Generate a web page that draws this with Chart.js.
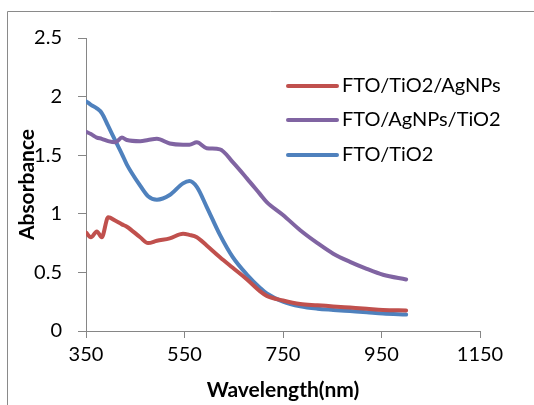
<!DOCTYPE html>
<html>
<head>
<meta charset="utf-8">
<script src="https://cdn.jsdelivr.net/npm/chart.js@4"></script>
<style>
  html, body { margin: 0; padding: 0; background: #fff; }
  #wrap { width: 534px; height: 405px; position: relative; }
</style>
</head>
<body>
<div id="wrap"><canvas id="absChart" width="534" height="405"></canvas></div>
<script>
// wavelength grid (nm) and absorbance
const wavelengths = [350, 360, 372, 382, 395, 410, 423, 433, 460, 476, 494, 520, 547, 560, 575, 595, 622, 648, 677, 703, 717, 750, 785, 820, 852, 886, 920, 953, 1000];
const tio2Ag = [0.84, 0.80, 0.85, 0.80, 0.97, 0.94, 0.91, 0.89, 0.80, 0.75, 0.77, 0.79, 0.83, 0.82, 0.80, 0.73, 0.63, 0.54, 0.44, 0.34, 0.30, 0.26, 0.23, 0.22, 0.21, 0.20, 0.19, 0.18, 0.175];
const agTio2 = [1.70, 1.68, 1.65, 1.64, 1.62, 1.61, 1.65, 1.63, 1.62, 1.63, 1.64, 1.60, 1.59, 1.59, 1.61, 1.56, 1.55, 1.44, 1.30, 1.17, 1.10, 0.99, 0.86, 0.75, 0.66, 0.59, 0.53, 0.48, 0.44];
const tio2 = [1.96, 1.93, 1.90, 1.86, 1.75, 1.62, 1.51, 1.42, 1.24, 1.15, 1.12, 1.16, 1.26, 1.28, 1.23, 1.06, 0.82, 0.63, 0.48, 0.37, 0.32, 0.25, 0.21, 0.19, 0.18, 0.17, 0.16, 0.15, 0.14];

const seriesNames = ["FTO/TiO2/AgNPs", "FTO/AgNPs/TiO2", "FTO/TiO2"];
const seriesColors = ["#C0504D", "#8064A2", "#4F81BD"];

const FONT = "Lato, 'Open Sans', sans-serif";
const AXIS_GRAY = "#868686";

function toPoints(vals) {
  return wavelengths.map((w, i) => ({ x: w, y: vals[i] }));
}

// legend drawn inside the plot, plus the partial outer frame
const overlay = {
  id: "overlay",
  beforeDraw(chart) {
    const c = chart.ctx;
    c.save();
    c.strokeStyle = "#8a8a8a";
    c.lineWidth = 1;
    c.beginPath();
    c.moveTo(7.5, 405);
    c.lineTo(7.5, 11.5);
    c.lineTo(534, 11.5);
    c.stroke();
    c.restore();
  },
  afterDraw(chart) {
    const c = chart.ctx;
    const rows = [86, 120, 155];
    c.save();
    c.font = "20px " + FONT;
    c.textBaseline = "middle";
    c.textAlign = "left";
    chart.data.datasets.forEach((ds, i) => {
      c.strokeStyle = ds.borderColor;
      c.lineWidth = 4;
      c.lineCap = "round";
      c.beginPath();
      c.moveTo(288, rows[i]);
      c.lineTo(337, rows[i]);
      c.stroke();
      c.fillStyle = "#000";
      c.fillText(ds.label, 342, rows[i]);
    });
    c.restore();
  },
};

const ctx = document.getElementById("absChart").getContext("2d");
const absChart = new Chart(ctx, {
  type: "line",
  data: {
    datasets: [
      { label: seriesNames[0], data: toPoints(tio2Ag), borderColor: seriesColors[0] },
      { label: seriesNames[1], data: toPoints(agTio2), borderColor: seriesColors[1] },
      { label: seriesNames[2], data: toPoints(tio2), borderColor: seriesColors[2] },
    ].map((d) => ({
      ...d,
      borderWidth: 4,
      pointRadius: 0,
      fill: false,
      cubicInterpolationMode: "monotone",
      borderCapStyle: "round",
    })),
  },
  options: {
    responsive: false,
    animation: false,
    layout: { padding: { top: 38, right: 54, left: 15, bottom: 2 } },
    plugins: {
      legend: { display: false },
      tooltip: { enabled: false },
    },
    scales: {
      x: {
        type: "linear",
        min: 350,
        max: 1150,
        ticks: {
          stepSize: 200,
          color: "#000",
          font: { family: FONT, size: 20 },
          padding: 5,
          maxRotation: 0,
          callback: (v) => String(v),
        },
        grid: {
          drawOnChartArea: false,
          color: AXIS_GRAY,
          tickLength: 7,
        },
        border: { color: AXIS_GRAY, width: 1 },
        title: {
          display: true,
          text: "Wavelength(nm)",
          color: "#000",
          font: { family: FONT, size: 21, weight: "bold" },
          padding: 0,
        },
        afterFit(scale) {
          scale.height = 72;
        },
      },
      y: {
        min: 0,
        max: 2.5,
        ticks: {
          stepSize: 0.5,
          color: "#000",
          font: { family: FONT, size: 20 },
          padding: 16,
          callback: (v) => String(v),
        },
        grid: {
          drawOnChartArea: false,
          color: AXIS_GRAY,
          tickLength: 8,
        },
        border: { color: AXIS_GRAY, width: 1 },
        title: {
          display: true,
          text: "Absorbance",
          color: "#000",
          font: { family: FONT, size: 21, weight: "bold" },
          padding: 0,
        },
        afterFit(scale) {
          scale.width = 71;
        },
      },
    },
  },
  plugins: [overlay],
});
</script>
</body>
</html>
